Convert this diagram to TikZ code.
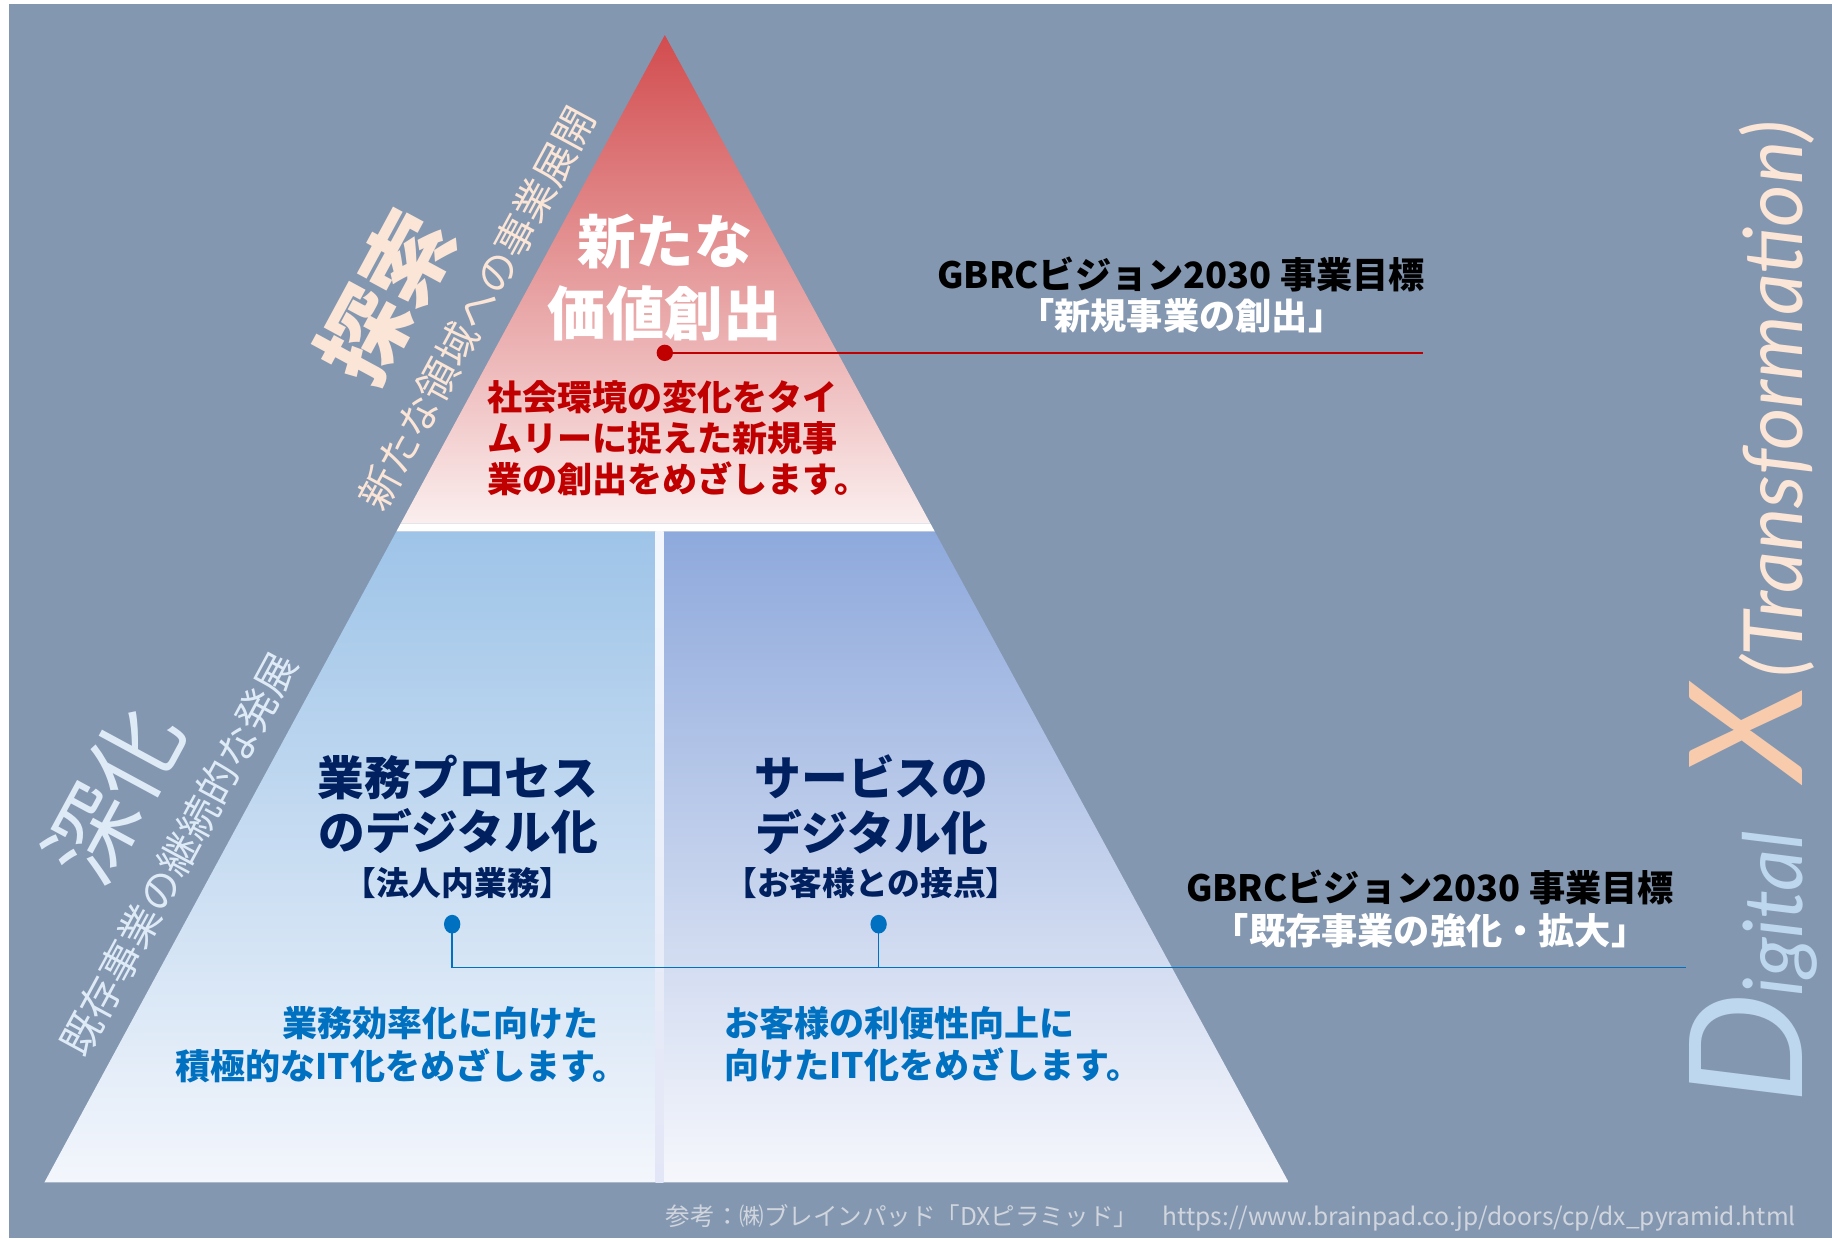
\documentclass[tikz,border=0pt]{standalone}
\usepackage{fontspec}
\newfontfamily\jp{Noto Sans CJK JP}
\newfontfamily\dxf{Lato}
\newcommand\fsz[2]{\fontsize{#1}{#2}\selectfont}
\definecolor{bgc}{RGB}{132,151,176}
\definecolor{redc}{RGB}{192,0,0}
\definecolor{navyc}{RGB}{0,32,96}
\definecolor{bluec}{RGB}{0,112,192}
\definecolor{peach}{RGB}{251,229,214}
\definecolor{peachx}{RGB}{248,203,173}
\definecolor{dxblue}{RGB}{189,215,238}
\definecolor{lblue}{RGB}{222,235,247}
\definecolor{footc}{RGB}{208,213,222}
\definecolor{redtop}{RGB}{210,76,78}
\definecolor{redmid}{RGB}{231,145,145}
\definecolor{redbot}{RGB}{251,238,238}
\definecolor{lefttop}{RGB}{158,196,232}
\definecolor{leftbot}{RGB}{243,246,252}
\definecolor{righttop}{RGB}{142,169,220}
\definecolor{rightbot}{RGB}{246,247,252}
\begin{document}
\begin{tikzpicture}[x=1pt,y=-1pt,
  every node/.style={inner sep=0pt,outer sep=0pt},
  jpb/.style={font=\jp\bfseries\fsz{#1}{#1}},
  jpr/.style={font=\jp\fsz{#1}{#1}},
  dot/.style={circle,minimum size=15pt,inner sep=0pt},
  conn/.style={line width=1.2pt},
  dxtext/.style={font=\dxf\itshape\fsz{#1}{#1},rotate=90,anchor=base west}]
% canvas
\fill[white] (0,0) rectangle (1568,1060);
\fill[bgc] (8,3) rectangle (1568,1060);
\useasboundingbox (0,0) rectangle (1568,1060);
% top triangle
\shade[top color=redtop,middle color=redmid,bottom color=redbot]
  (569,30) -- (796.3,448) -- (343.0,448) -- cycle;
\fill[white] (343.0,448) -- (796.3,448) -- (800.1,455) -- (339.2,455) -- cycle;
% lower halves
\shade[top color=lefttop,bottom color=leftbot]
  (339.2,455) -- (561,455) -- (561,1012) -- (38,1012) -- cycle;
\shade[top color=righttop,bottom color=rightbot]
  (568,455) -- (800.1,455) -- (1103,1012) -- (568,1012) -- cycle;
\shade[top color={rgb,255:red,243;green,247;blue,253},bottom color={rgb,255:red,226;green,230;blue,246}]
  (561,455) rectangle (568,1012);
% side labels
\node[jpb=76,text=peach,rotate=61.6] (tansaku) at (330,254) {探索};
\node[jpr=35,text=peach,rotate=61.6] (tansub) at (408,264) {新たな領域への事業展開};
\node[jpr=78,text=lblue,rotate=61.6] (shinka) at (97,680) {深化};
\node[jpr=35,text=lblue,rotate=61.6] (shinsub) at (153,731) {既存事業の継続的な発展};
% top content
\node[font=\jp\bfseries\fsz{50}{61},text=white,align=center] (top) at (569,237.5) {新たな\\価値創出};
\coordinate (rend) at (1218,302);
\node[dot] (rdot) at (569,302) {};
\draw[conn,redc] (rdot.center) -- (rend);
\fill[redc] (rdot) circle (7);
\node[font=\jp\bfseries\fsz{30}{35},text=redc,align=left,anchor=west] (toptext) at (417,375)
  {社会環境の変化をタイ\\ムリーに捉えた新規事\\業の創出をめざします。};
\node[font=\jp\bfseries\fsz{31}{35},text=black,align=center] (goal1) at (1011,252.5)
  {GBRCビジョン2030 事業目標\\\textcolor{white}{「新規事業の創出」}};
% lower content
\node[font=\jp\bfseries\fsz{40}{47},text=navyc,align=center] (ltitle) at (392,688.5) {業務プロセス\\のデジタル化};
\node[jpb=28,text=navyc] (lsub) at (392,756) {【法人内業務】};
\node[font=\jp\bfseries\fsz{40}{47},text=navyc,align=center] (rtitle) at (746,688.5) {サービスの\\デジタル化};
\node[jpb=28,text=navyc] (rsub) at (746,756) {【お客様との接点】};
\node[dot] (bdot1) at (387,791) {};
\node[dot] (bdot2) at (752,791) {};
\coordinate (bj1) at (387,828);
\coordinate (bj2) at (752,828);
\coordinate (bend) at (1443,828);
\draw[conn,bluec] (bdot1.center) -- (bj1) -- (bend);
\draw[conn,bluec] (bdot2.center) -- (bj2);
\fill[bluec] (bdot1) ellipse (7 and 8);
\fill[bluec] (bdot2) ellipse (7 and 8);
\node[font=\jp\bfseries\fsz{31}{36},text=black,align=center] (goal2) at (1224,778)
  {GBRCビジョン2030 事業目標\\\textcolor{white}{「既存事業の強化・拡大」}};
\node[jpb=30,text=bluec,anchor=west] (ltext1) at (242,876) {業務効率化に向けた};
\node[jpb=30,text=bluec,anchor=west] (ltext2) at (150,912) {積極的なIT化をめざします。};
\node[font=\jp\bfseries\fsz{30}{36},text=bluec,align=left,anchor=west] (rtext) at (620,894)
  {お客様の利便性向上に\\向けたIT化をめざします。};
% footer
\node[jpr=21,text=footc,anchor=west] (foot) at (570,1042)
  {参考：㈱ブレインパッド「DXピラミッド」　https://www.brainpad.co.jp/doors/cp/dx\_pyramid.html};
% Digital X (Transformation)
\node[dxtext=135,text=dxblue] (dxD) at (1543,945) {D};
\node[dxtext=70,text=dxblue] (dxig) at (1543,853) {igital};
\node[dxtext=135,text=peachx] (dxX) at (1543,668) {X};
\node[dxtext=70,text=peach] (dxT) at (1543,580) {(Transformation)};
\end{tikzpicture}
\end{document}
